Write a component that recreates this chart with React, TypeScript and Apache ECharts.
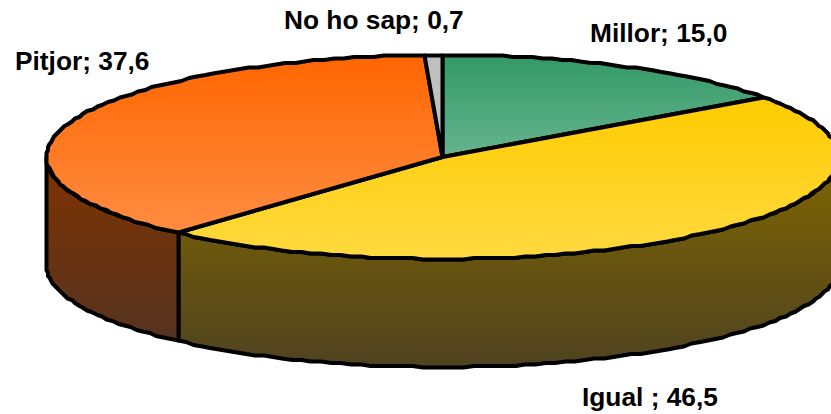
import React, { useEffect, useRef } from "react";
import * as echarts from "echarts";

const categories = ["Millor", "Igual ", "Pitjor", "No ho sap"];
const values = [15.0, 46.5, 37.6, 0.7];
const valueLabels = ["15,0", "46,5", "37,6", "0,7"];

const topColors = [
  ["#339966", "#66B48F"],
  ["#FFCC00", "#FFD940"],
  ["#FF6600", "#FF8C42"],
  ["#C0C0C0", "#C0C0C0"],
];
const sideColors = [
  ["#1A4D33", "#1A4D33"],
  ["#7F6600", "#4F4220"],
  ["#7F3300", "#553320"],
  ["#606060", "#606060"],
];
const labelAnchors = [
  [590, 33],
  [582, 397],
  [15, 61],
  [284, 20],
];

const CX = 442.5;
const CY = 157;
const RX = 396;
const RY = 102;
const DEPTH = 108;
const STEP = (1.5 * Math.PI) / 180;
const SNAP = 1.5;
const total = values.reduce((a, b) => a + b, 0);

function sliceAngles(i: number): [number, number] {
  let sum = 0;
  for (let k = 0; k < i; k++) sum += values[k];
  const a0 = (sum / total) * Math.PI * 2;
  return [a0, a0 + (values[i] / total) * Math.PI * 2];
}

const snap = (v: number) => Math.round(v / SNAP) * SNAP;

function arc(a0: number, a1: number, dy = 0): number[][] {
  const pts: number[][] = [];
  const n = Math.max(1, Math.ceil((a1 - a0) / STEP));
  for (let k = 0; k <= n; k++) {
    const a = a0 + ((a1 - a0) * k) / n;
    pts.push([snap(CX + RX * Math.sin(a)), snap(CY - RY * Math.cos(a)) + dy]);
  }
  return pts;
}

function gradient(c: string[]) {
  return new echarts.graphic.LinearGradient(0, 0, 0, 1, [
    { offset: 0, color: c[0] },
    { offset: 1, color: c[1] },
  ]);
}

const stroke = { stroke: "#000", lineWidth: 4, lineJoin: "round" as const };

const renderSide = (params: any) => {
  const i = params.dataIndex;
  const [a0, a1] = sliceAngles(i);
  const from = Math.max(a0, Math.PI / 2);
  const to = Math.min(a1, (Math.PI * 3) / 2);
  if (to <= from) return { type: "group", children: [] };
  const points = [...arc(from, to), ...arc(from, to, DEPTH).reverse()];
  return {
    type: "polygon",
    shape: { points },
    style: { fill: gradient(sideColors[i]), ...stroke },
  };
};

const renderTop = (params: any) => {
  const i = params.dataIndex;
  const [a0, a1] = sliceAngles(i);
  const points = [[CX, CY], ...arc(a0, a1)];
  return {
    type: "polygon",
    shape: { points },
    style: { fill: gradient(topColors[i]), ...stroke },
  };
};

const renderLabel = (params: any) => {
  const i = params.dataIndex;
  return {
    type: "text",
    style: {
      x: labelAnchors[i][0],
      y: labelAnchors[i][1],
      text: `${categories[i]}; ${valueLabels[i]}`,
      fill: "#000",
      font: 'bold 26.3px "Liberation Sans", Arial, sans-serif',
      verticalAlign: "middle",
      align: "left",
    },
  };
};

export default function App() {
  const ref = useRef<HTMLDivElement>(null);
  useEffect(() => {
    const chart = echarts.init(ref.current!, null, { renderer: "svg" });
    const data = values.map((v, i) => ({ name: categories[i], value: v }));
    chart.setOption({
      animation: false,
      backgroundColor: "#fff",
      series: [
        { type: "custom", coordinateSystem: "none", renderItem: renderSide, data, z: 1, silent: true },
        { type: "custom", coordinateSystem: "none", renderItem: renderTop, data, z: 2, silent: true },
        { type: "custom", coordinateSystem: "none", renderItem: renderLabel, data, z: 3, silent: true },
      ],
    });
    return () => chart.dispose();
  }, []);
  return (
    <div
      ref={ref}
      style={{ position: "fixed", left: 0, top: 0, width: 831, height: 414, overflow: "hidden" }}
    />
  );
}
